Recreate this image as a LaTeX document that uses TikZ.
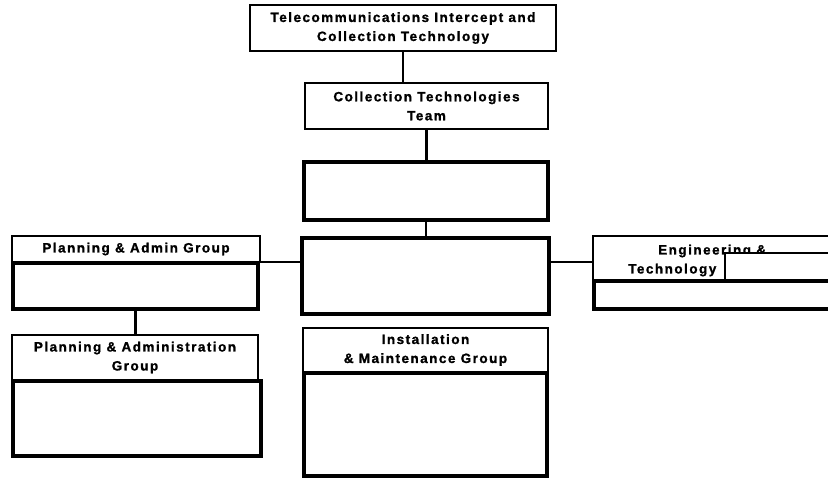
\documentclass[tikz,border=0pt]{standalone}
\usepackage{fontspec}
\setmainfont{Liberation Sans}[LetterSpace=11,FakeBold=1.2]
\begin{document}
\begin{tikzpicture}[x=1pt,y=-1pt,
  thinbox/.style={draw, line width=1.2pt, fill=white, anchor=north west, inner sep=0pt, outer sep=0pt, align=center,
     font=\fontsize{13.5}{19}\selectfont\bfseries},
  thickbox/.style={draw, line width=4pt, fill=white, anchor=north west, inner sep=0pt, outer sep=0pt},
  conn/.style={line width=2.2pt},
  lbl/.style={anchor=west, inner sep=0pt, font=\fontsize{13.5}{19}\selectfont\bfseries}]
\useasboundingbox (0,0) rectangle (828,480);
\clip (0,0) rectangle (828,480);
% top
\node[thinbox, minimum width=306pt, minimum height=46pt] (top) at (250,5) {Telecommunications Intercept and\\Collection Technology};
\node[thinbox, minimum width=243pt, minimum height=46pt] (ctt) at (305,83) {Collection Technologies\\Team};
\node[thickbox, minimum width=244pt, minimum height=58pt] (b1) at (304,162) {};
\node[thickbox, minimum width=247pt, minimum height=76pt] (b2) at (302,238) {};
% planning & admin group
\node[thinbox, minimum width=248pt, minimum height=26pt] (pahead) at (12,236) {Planning \& Admin Group};
\node[thickbox, minimum width=245pt, minimum height=46pt] (pabox) at (13,263) {};
% planning & administration group
\node[thinbox, minimum width=246pt, minimum height=45pt] (pa2head) at (12,335) {Planning \& Administration\\Group};
\node[thickbox, minimum width=248pt, minimum height=75pt] (pa2box) at (13,381) {};
% installation
\node[thinbox, minimum width=245pt, minimum height=44pt] (imhead) at (303,328) {Installation\\\& Maintenance Group};
\node[thickbox, minimum width=243pt, minimum height=103pt] (imbox) at (304,373) {};
% engineering
\node[thinbox, minimum width=260pt, minimum height=46pt] (enghead) at (593,236) {};
\node[lbl] (engt1) at (658,251) {Engineering \&};
\node[lbl] (engt2) at (628,270) {Technology};
\node[draw, line width=1.2pt, fill=white, anchor=north west, outer sep=0pt, minimum width=120pt, minimum height=27pt] (engsub) at (725,253) {};
\node[thickbox, minimum width=260pt, minimum height=28pt] (engbox) at (594,281) {};
% connectors
\draw[conn] (top.south) -- (top.south |- ctt.north);
\draw[conn] (ctt.south) -- (ctt.south |- b1.north);
\draw[conn] (b1.south) -- (b1.south |- b2.north);
\draw[conn] (pahead.south east) -- (pahead.south east -| b2.west);
\draw[conn] (b2.east |- pahead.south east) -- (enghead.west |- pahead.south east);
\draw[conn] (pabox.south) -- (pabox.south |- pa2head.north);
\end{tikzpicture}
\end{document}
